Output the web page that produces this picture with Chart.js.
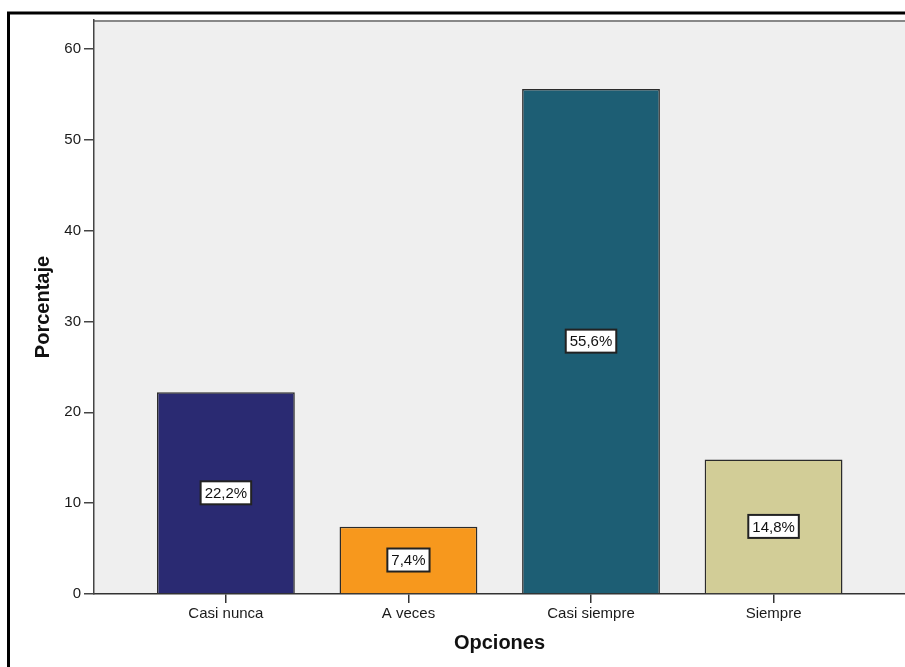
<!DOCTYPE html>
<html>
<head>
<meta charset="utf-8">
<script src="https://cdn.jsdelivr.net/npm/chart.js@4"></script>
<style>
  html, body { margin: 0; padding: 0; background: #fff; }
  #wrap { width: 905px; height: 667px; }
</style>
</head>
<body>
<div id="wrap"><canvas id="chart" width="905" height="667"></canvas></div>
<script>
// Chart data
const categories = ['Casi nunca', 'A veces', 'Casi siempre', 'Siempre'];
const percentages = [22.2, 7.4, 55.6, 14.8];
const barColors = ['#2a2a72', '#f7981d', '#1d5e74', '#d2cd97'];
const yTicks = [0, 10, 20, 30, 40, 50, 60];

// frame and plot background
const backdrop = {
  id: 'backdrop',
  beforeDraw(chart) {
    const { ctx, chartArea: a } = chart;
    ctx.save();
    ctx.fillStyle = '#efefef';
    ctx.fillRect(a.left, a.top, a.right - a.left, a.bottom - a.top);
    ctx.strokeStyle = '#888';
    ctx.lineWidth = 2;
    ctx.beginPath();
    ctx.moveTo(a.left, a.top + 1);
    ctx.lineTo(a.right, a.top + 1);
    ctx.stroke();
    // outer black frame
    ctx.strokeStyle = '#000';
    ctx.lineWidth = 3;
    ctx.beginPath();
    ctx.moveTo(8.5, chart.height);
    ctx.lineTo(8.5, 13);
    ctx.lineTo(chart.width, 13);
    ctx.stroke();
    ctx.restore();
  }
};

// percentage boxes in the middle of each bar
const barLabels = {
  id: 'barLabels',
  afterDatasetsDraw(chart) {
    const { ctx } = chart;
    const meta = chart.getDatasetMeta(0);
    ctx.save();
    ctx.font = '15px "Liberation Sans", Arial, sans-serif';
    ctx.textAlign = 'center';
    ctx.textBaseline = 'middle';
    meta.data.forEach((bar, i) => {
      const text = percentages[i].toFixed(1).replace('.', ',') + '%';
      const cy = (bar.y + bar.base) / 2;
      const w = ctx.measureText(text).width + 8;
      const h = 23;
      ctx.fillStyle = '#fff';
      ctx.fillRect(bar.x - w / 2, cy - h / 2, w, h);
      ctx.strokeStyle = '#222';
      ctx.lineWidth = 2;
      ctx.strokeRect(bar.x - w / 2, cy - h / 2, w, h);
      ctx.fillStyle = '#111';
      ctx.fillText(text, bar.x, cy + 1);
    });
    ctx.restore();
  }
};

new Chart(document.getElementById('chart'), {
  type: 'bar',
  data: {
    datasets: [{
      data: percentages.map((v, i) => ({ x: i, y: v })),
      backgroundColor: barColors,
      borderColor: '#2b2b2b',
      borderWidth: 1.5,
      barPercentage: 0.755,
      categoryPercentage: 1
    }]
  },
  options: {
    responsive: false,
    animation: false,
    layout: { padding: { top: 20, left: 0, right: 0, bottom: 0 } },
    plugins: {
      legend: { display: false },
      tooltip: { enabled: false }
    },
    scales: {
      x: {
        type: 'linear',
        offset: false,
        min: -0.7225,
        max: 3.72,
        afterFit: (scale) => { scale.height = 73; },
        afterBuildTicks: (scale) => { scale.ticks = categories.map((c, i) => ({ value: i })); },
        grid: { offset: false, drawOnChartArea: false, drawTicks: true, tickLength: 9, color: '#333', lineWidth: 1.5 },
        border: { color: '#333', width: 1.5 },
        ticks: {
          padding: 2,
          color: '#1a1a1a',
          font: { family: '"Liberation Sans", Arial, sans-serif', size: 15 },
          callback: (value) => categories[value]
        },
        title: {
          display: true,
          text: 'Opciones',
          color: '#111',
          font: { family: '"Liberation Sans", Arial, sans-serif', size: 20, weight: 'bold' },
          padding: { top: 0, bottom: 12 }
        }
      },
      y: {
        min: 0,
        max: 63.2,
        afterFit: (scale) => { scale.width = 94; },
        afterBuildTicks: (scale) => { scale.ticks = yTicks.map(v => ({ value: v })); },
        grid: { drawOnChartArea: false, drawTicks: true, tickLength: 10, color: '#444', lineWidth: 1.5 },
        border: { color: '#444', width: 1.5 },
        ticks: {
          padding: 3,
          color: '#1a1a1a',
          font: { family: '"Liberation Sans", Arial, sans-serif', size: 15 }
        },
        title: {
          display: true,
          text: 'Porcentaje',
          color: '#111',
          font: { family: '"Liberation Sans", Arial, sans-serif', size: 20, weight: 'bold' },
          padding: { top: 31, bottom: 0 }
        }
      }
    }
  },
  plugins: [backdrop, barLabels]
});
</script>
</body>
</html>
